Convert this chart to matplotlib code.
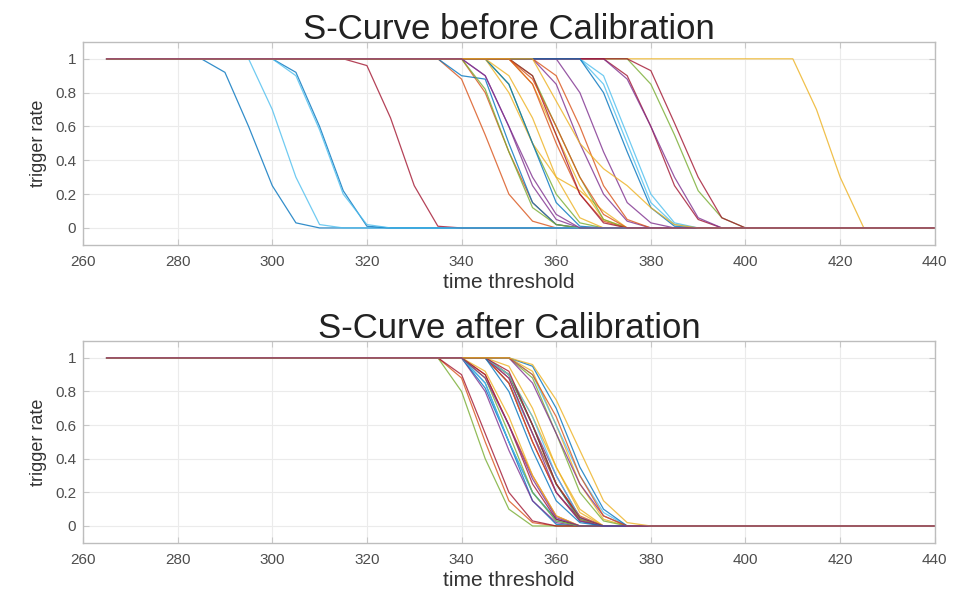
import matplotlib.pyplot as plt
import numpy as np

# threshold scan points
thresholds = np.arange(265, 445, 5)

# each curve: (last threshold at rate 1, falling values after it) -> then stays at 0
before_start = [285, 335, 410, 340, 345, 295, 315, 300, 340, 350, 355, 375, 365, 370, 335, 350,
                345, 360, 350, 365, 350, 345, 355, 345, 370, 340, 300, 375, 365, 350, 355, 340]
before_drop = [
    [0.92, 0.6, 0.25, 0.03],
    [0.88, 0.55, 0.2, 0.04],
    [0.7, 0.3],
    [0.9, 0.6, 0.25, 0.05],
    [0.85, 0.5, 0.2, 0.03],
    [0.7, 0.3, 0.02],
    [0.96, 0.65, 0.25, 0.01],
    [0.92, 0.6, 0.22, 0.01],
    [0.8, 0.45, 0.15, 0.02],
    [0.85, 0.55, 0.25, 0.05],
    [0.85, 0.5, 0.2, 0.04],
    [0.85, 0.55, 0.22, 0.06],
    [0.85, 0.5, 0.15, 0.02],
    [0.9, 0.6, 0.25, 0.05],
    [0.9, 0.88, 0.5, 0.15, 0.02],
    [0.85, 0.5, 0.2, 0.04],
    [0.8, 0.5, 0.3, 0.22, 0.1],
    [0.8, 0.45, 0.15, 0.03],
    [0.9, 0.6, 0.3, 0.05],
    [0.9, 0.55, 0.2, 0.03],
    [0.9, 0.55, 0.2, 0.03],
    [0.85, 0.5, 0.15, 0.01],
    [0.9, 0.6, 0.25, 0.05],
    [0.9, 0.65, 0.3, 0.06],
    [0.88, 0.6, 0.3, 0.06],
    [0.82, 0.45, 0.12, 0.02],
    [0.9, 0.58, 0.2, 0.02],
    [0.93, 0.62, 0.3, 0.06],
    [0.8, 0.45, 0.12, 0.01],
    [0.88, 0.6, 0.3, 0.08],
    [0.75, 0.5, 0.35, 0.25, 0.12, 0.02],
    [0.9, 0.6, 0.3, 0.08],
]

after_start = [340, 335, 350, 345, 335, 345, 335, 345, 340, 345, 340, 350, 350, 345, 340, 345,
               340, 350, 345, 340, 340, 350, 345, 345, 345, 340, 345, 345, 345, 350, 350, 340]
after_drop = [
    [0.85, 0.5, 0.15, 0.01],
    [0.88, 0.5, 0.15, 0.02],
    [0.92, 0.6, 0.25, 0.04],
    [0.9, 0.6, 0.3, 0.05],
    [0.8, 0.4, 0.1],
    [0.85, 0.55, 0.25, 0.05],
    [0.9, 0.55, 0.2, 0.03],
    [0.9, 0.6, 0.25, 0.03],
    [0.9, 0.6, 0.3, 0.06],
    [0.95, 0.7, 0.35, 0.08],
    [0.8, 0.45, 0.15, 0.02],
    [0.88, 0.55, 0.2, 0.03],
    [0.9, 0.6, 0.3, 0.08],
    [0.85, 0.5, 0.2, 0.04],
    [0.82, 0.5, 0.2, 0.04],
    [0.88, 0.55, 0.25, 0.06],
    [0.92, 0.65, 0.3, 0.06],
    [0.85, 0.55, 0.25, 0.06],
    [0.9, 0.6, 0.25, 0.04],
    [0.85, 0.5, 0.2, 0.03],
    [0.9, 0.6, 0.25, 0.04],
    [0.95, 0.7, 0.35, 0.1],
    [0.85, 0.5, 0.2, 0.03],
    [0.9, 0.65, 0.35, 0.1],
    [0.88, 0.55, 0.2, 0.03],
    [0.88, 0.55, 0.2, 0.03],
    [0.9, 0.65, 0.3, 0.05],
    [0.92, 0.6, 0.25, 0.05],
    [0.8, 0.45, 0.15, 0.02],
    [0.9, 0.65, 0.3, 0.06],
    [0.96, 0.75, 0.45, 0.15, 0.02],
    [0.88, 0.6, 0.28, 0.05],
]

xticks = [260, 280, 300, 320, 340, 360, 380, 400, 420, 440]
yticks = [0, 0.2, 0.4, 0.6, 0.8, 1]
ytick_labels = ['0', '0.2', '0.4', '0.6', '0.8', '1']

# matlab default line colours
matlab_colors = ['#0072BD', '#D95319', '#EDB120', '#7E2F8E', '#77AC30', '#4DBEEE', '#A2142F']


def build_curve(start, drop):
    n_ones = int(np.sum(thresholds <= start))
    y = np.zeros(len(thresholds))
    y[:n_ones] = 1
    y[n_ones:n_ones + len(drop)] = drop
    return y


plt.rcParams['font.family'] = ['Liberation Sans', 'DejaVu Sans']
fig = plt.figure(figsize=(9.68, 5.90), dpi=100)
ax1 = fig.add_axes([0.0857, 0.585, 0.880, 0.344])
ax2 = fig.add_axes([0.0857, 0.080, 0.880, 0.342])

panels = [(ax1, before_start, before_drop, 'S-Curve before Calibration'),
          (ax2, after_start, after_drop, 'S-Curve after Calibration')]

for ax, starts, drops, title in panels:
    for i, (s, d) in enumerate(zip(starts, drops)):
        ax.plot(thresholds, build_curve(s, d), lw=0.9, alpha=0.8,
                c=matlab_colors[i % len(matlab_colors)])
    ax.set_xlim(260, 440)
    ax.set_ylim(-0.1, 1.1)
    ax.set_xticks(xticks)
    ax.set_yticks(yticks)
    ax.set_yticklabels(ytick_labels)
    ax.grid(True, color='#ebebeb', lw=0.8)
    ax.set_axisbelow(True)
    ax.tick_params(direction='in', length=4, colors='#c8c8c8', labelcolor='#4d4d4d',
                   labelsize=11, top=True, right=True)
    ax.tick_params(axis='x', pad=7)
    ax.tick_params(axis='y', pad=5)
    for sp in ax.spines.values():
        sp.set_color('#bdbdbd')
        sp.set_linewidth(1.0)
    ax.set_xlabel('time threshold', fontsize=15, color='#333333', labelpad=3)
    ax.set_ylabel('trigger rate', fontsize=13, color='#333333', labelpad=6)
    ax.set_title(title, fontsize=25, color='#222222', pad=2)

fig.savefig('out.png', dpi=100)
